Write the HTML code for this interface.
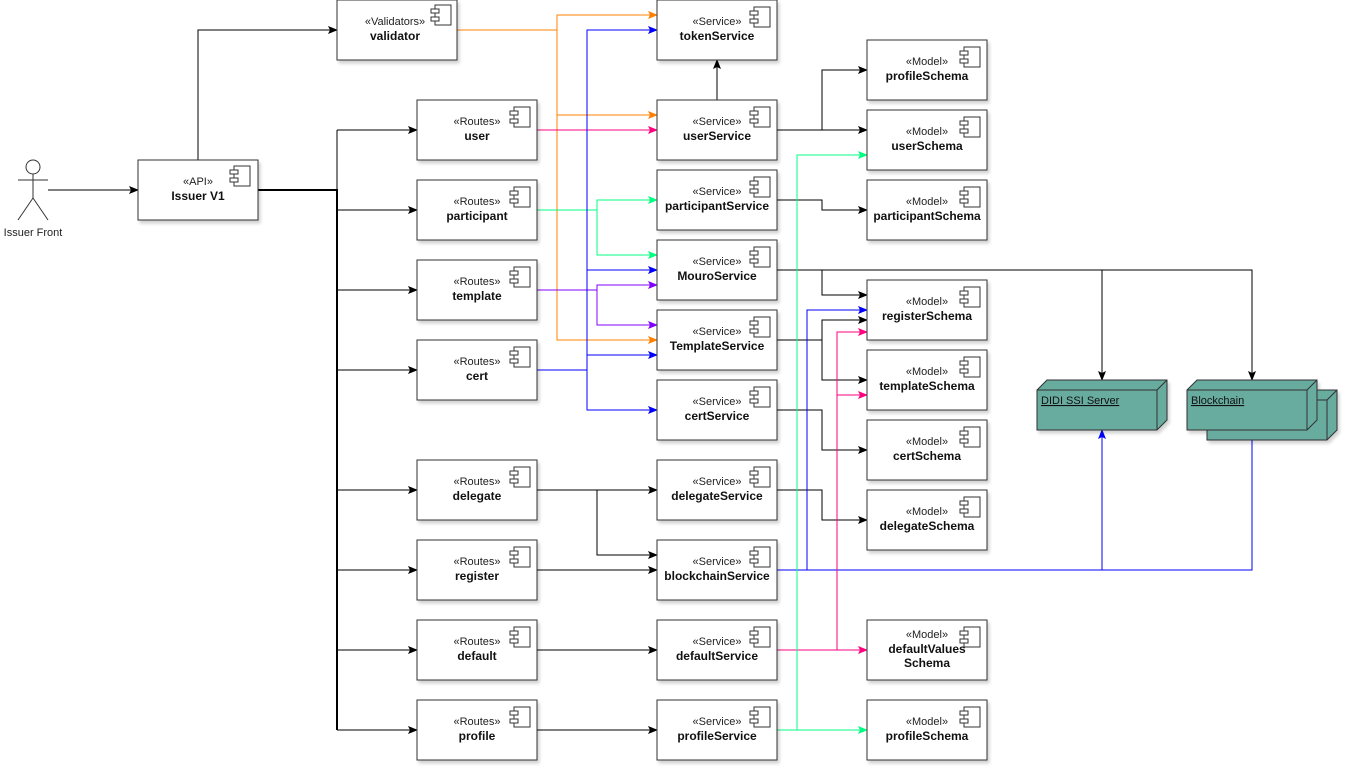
<!DOCTYPE html>
<html><head><meta charset="utf-8"><style>
html,body{margin:0;padding:0;background:#fff;}
svg{display:block;font-family:"Liberation Sans",sans-serif;}
.b{fill:#fff;stroke:#333;stroke-width:1;}
.st{font-size:11px;fill:#222;}
.nm{font-size:12px;font-weight:bold;fill:#111;}
</style></head><body>
<svg width="1349" height="772" viewBox="0 0 1349 772" xmlns="http://www.w3.org/2000/svg">
<defs>
<filter id="sh" x="-10%" y="-10%" width="130%" height="130%"><feDropShadow dx="2" dy="3" stdDeviation="1.5" flood-color="#000" flood-opacity="0.18"/></filter>
<marker id="ak" markerWidth="10" markerHeight="8" refX="9" refY="4" orient="auto" markerUnits="userSpaceOnUse"><path d="M0,0 L10,4 L0,8 L2,4z" fill="#000"/></marker>
<marker id="ao" markerWidth="10" markerHeight="8" refX="9" refY="4" orient="auto" markerUnits="userSpaceOnUse"><path d="M0,0 L10,4 L0,8 L2,4z" fill="#ff8000"/></marker>
<marker id="ab" markerWidth="10" markerHeight="8" refX="9" refY="4" orient="auto" markerUnits="userSpaceOnUse"><path d="M0,0 L10,4 L0,8 L2,4z" fill="#0000ff"/></marker>
<marker id="ap" markerWidth="10" markerHeight="8" refX="9" refY="4" orient="auto" markerUnits="userSpaceOnUse"><path d="M0,0 L10,4 L0,8 L2,4z" fill="#ff0080"/></marker>
<marker id="ag" markerWidth="10" markerHeight="8" refX="9" refY="4" orient="auto" markerUnits="userSpaceOnUse"><path d="M0,0 L10,4 L0,8 L2,4z" fill="#00ff80"/></marker>
<marker id="av" markerWidth="10" markerHeight="8" refX="9" refY="4" orient="auto" markerUnits="userSpaceOnUse"><path d="M0,0 L10,4 L0,8 L2,4z" fill="#8000ff"/></marker>
<g id="ic"><rect x="4" y="0" width="16" height="20" fill="#fff" stroke="#333"/><rect x="0" y="4" width="8" height="4" fill="#fff" stroke="#333"/><rect x="0" y="12" width="8" height="4" fill="#fff" stroke="#333"/></g>
</defs>

<g fill="none" stroke-width="1">
<path d="M48,190 H138" stroke="#000" marker-end="url(#ak)"/>
<path d="M198,160 V30 H337" stroke="#000" marker-end="url(#ak)"/>
<path d="M337,130 V190" stroke="#000"/>
<path d="M258,190 H337 V730" stroke="#000" stroke-width="2"/>
<g stroke="#000" marker-end="url(#ak)">
<path d="M337,130 H417"/><path d="M337,210 H417"/><path d="M337,290 H417"/><path d="M337,370 H417"/>
<path d="M337,490 H417"/><path d="M337,570 H417"/><path d="M337,650 H417"/><path d="M337,730 H417"/>
</g>
<g stroke="#ff8000" marker-end="url(#ao)">
<path d="M457,30 H557 V15 H657"/><path d="M557,30 V115 H657"/><path d="M557,115 V340 H657"/>
</g>
<path d="M537,130 H657" stroke="#ff0080" marker-end="url(#ap)"/>
<g stroke="#00ff80" marker-end="url(#ag)">
<path d="M537,210 H597 V200 H657"/><path d="M597,210 V255 H657"/>
</g>
<g stroke="#8000ff" marker-end="url(#av)">
<path d="M537,290 H597 V285 H657"/><path d="M597,290 V325 H657"/>
</g>
<g stroke="#0000ff" marker-end="url(#ab)">
<path d="M537,370 H587 V30 H657"/><path d="M587,270 H657"/><path d="M587,355 H657"/><path d="M587,370 V410 H657"/>
</g>
<g stroke="#000" marker-end="url(#ak)">
<path d="M717,100 V60"/>
<path d="M777,130 H822 V70 H867"/><path d="M777,130 H867"/>
<path d="M777,200 H822 V210 H867"/>
<path d="M777,270 H822 V295 H867"/>
<path d="M777,270 H1102 V380"/><path d="M1102,270 H1252 V380"/>
<path d="M777,340 H822 V320 H867"/><path d="M822,340 V380 H867"/>
<path d="M777,410 H822 V450 H867"/>
<path d="M537,490 H657"/><path d="M597,490 V555 H657"/>
<path d="M537,570 H657"/><path d="M537,650 H657"/><path d="M537,730 H657"/>
<path d="M777,490 H822 V520 H867"/>
</g>
<g stroke="#0000ff" marker-end="url(#ab)">
<path d="M777,570 H1102 V430"/><path d="M1102,570 H1252 V430"/><path d="M807,570 V310 H867"/>
</g>
<g stroke="#ff0080" marker-end="url(#ap)">
<path d="M777,650 H867"/><path d="M837,650 V332 H867"/><path d="M837,395 H867"/>
</g>
<g stroke="#00ff80" marker-end="url(#ag)">
<path d="M777,730 H867"/><path d="M797,730 V155 H867"/>
</g>
</g>

<g stroke="#333" fill="none">
<circle cx="33" cy="167" r="7" fill="#fff"/>
<path d="M33,174 V198 M18,180 H48 M33,198 L18,220 M33,198 L48,220"/>
</g>
<text x="33" y="236" text-anchor="middle" font-size="11" fill="#222">Issuer Front</text>

<g transform="translate(138,160)"><rect class="b" width="120" height="60" filter="url(#sh)"/><use href="#ic" x="92" y="6"/><text class="st" x="60" y="25" text-anchor="middle">«API»</text><text class="nm" x="60" y="40" text-anchor="middle">Issuer V1</text></g>
<g transform="translate(337,0)"><rect class="b" width="120" height="60" filter="url(#sh)"/><use href="#ic" x="94" y="5"/><text class="st" x="58" y="25" text-anchor="middle">«Validators»</text><text class="nm" x="58" y="40" text-anchor="middle">validator</text></g>

<g transform="translate(417,100)"><rect class="b" width="120" height="60" filter="url(#sh)"/><use href="#ic" x="93" y="7"/><text class="st" x="60" y="25" text-anchor="middle">«Routes»</text><text class="nm" x="60" y="40" text-anchor="middle">user</text></g>
<g transform="translate(417,180)"><rect class="b" width="120" height="60" filter="url(#sh)"/><use href="#ic" x="93" y="7"/><text class="st" x="60" y="25" text-anchor="middle">«Routes»</text><text class="nm" x="60" y="40" text-anchor="middle">participant</text></g>
<g transform="translate(417,260)"><rect class="b" width="120" height="60" filter="url(#sh)"/><use href="#ic" x="93" y="7"/><text class="st" x="60" y="25" text-anchor="middle">«Routes»</text><text class="nm" x="60" y="40" text-anchor="middle">template</text></g>
<g transform="translate(417,340)"><rect class="b" width="120" height="60" filter="url(#sh)"/><use href="#ic" x="93" y="7"/><text class="st" x="60" y="25" text-anchor="middle">«Routes»</text><text class="nm" x="60" y="40" text-anchor="middle">cert</text></g>
<g transform="translate(417,460)"><rect class="b" width="120" height="60" filter="url(#sh)"/><use href="#ic" x="93" y="7"/><text class="st" x="60" y="25" text-anchor="middle">«Routes»</text><text class="nm" x="60" y="40" text-anchor="middle">delegate</text></g>
<g transform="translate(417,540)"><rect class="b" width="120" height="60" filter="url(#sh)"/><use href="#ic" x="93" y="7"/><text class="st" x="60" y="25" text-anchor="middle">«Routes»</text><text class="nm" x="60" y="40" text-anchor="middle">register</text></g>
<g transform="translate(417,620)"><rect class="b" width="120" height="60" filter="url(#sh)"/><use href="#ic" x="93" y="7"/><text class="st" x="60" y="25" text-anchor="middle">«Routes»</text><text class="nm" x="60" y="40" text-anchor="middle">default</text></g>
<g transform="translate(417,700)"><rect class="b" width="120" height="60" filter="url(#sh)"/><use href="#ic" x="93" y="7"/><text class="st" x="60" y="25" text-anchor="middle">«Routes»</text><text class="nm" x="60" y="40" text-anchor="middle">profile</text></g>

<g transform="translate(657,0)"><rect class="b" width="120" height="60" filter="url(#sh)"/><use href="#ic" x="93" y="7"/><text class="st" x="60" y="25" text-anchor="middle">«Service»</text><text class="nm" x="60" y="40" text-anchor="middle">tokenService</text></g>
<g transform="translate(657,100)"><rect class="b" width="120" height="60" filter="url(#sh)"/><use href="#ic" x="93" y="7"/><text class="st" x="60" y="25" text-anchor="middle">«Service»</text><text class="nm" x="60" y="40" text-anchor="middle">userService</text></g>
<g transform="translate(657,170)"><rect class="b" width="120" height="60" filter="url(#sh)"/><use href="#ic" x="93" y="7"/><text class="st" x="60" y="25" text-anchor="middle">«Service»</text><text class="nm" x="60" y="40" text-anchor="middle">participantService</text></g>
<g transform="translate(657,240)"><rect class="b" width="120" height="60" filter="url(#sh)"/><use href="#ic" x="93" y="7"/><text class="st" x="60" y="25" text-anchor="middle">«Service»</text><text class="nm" x="60" y="40" text-anchor="middle">MouroService</text></g>
<g transform="translate(657,310)"><rect class="b" width="120" height="60" filter="url(#sh)"/><use href="#ic" x="93" y="7"/><text class="st" x="60" y="25" text-anchor="middle">«Service»</text><text class="nm" x="60" y="40" text-anchor="middle">TemplateService</text></g>
<g transform="translate(657,380)"><rect class="b" width="120" height="60" filter="url(#sh)"/><use href="#ic" x="93" y="7"/><text class="st" x="60" y="25" text-anchor="middle">«Service»</text><text class="nm" x="60" y="40" text-anchor="middle">certService</text></g>
<g transform="translate(657,460)"><rect class="b" width="120" height="60" filter="url(#sh)"/><use href="#ic" x="93" y="7"/><text class="st" x="60" y="25" text-anchor="middle">«Service»</text><text class="nm" x="60" y="40" text-anchor="middle">delegateService</text></g>
<g transform="translate(657,540)"><rect class="b" width="120" height="60" filter="url(#sh)"/><use href="#ic" x="93" y="7"/><text class="st" x="60" y="25" text-anchor="middle">«Service»</text><text class="nm" x="60" y="40" text-anchor="middle">blockchainService</text></g>
<g transform="translate(657,620)"><rect class="b" width="120" height="60" filter="url(#sh)"/><use href="#ic" x="93" y="7"/><text class="st" x="60" y="25" text-anchor="middle">«Service»</text><text class="nm" x="60" y="40" text-anchor="middle">defaultService</text></g>
<g transform="translate(657,700)"><rect class="b" width="120" height="60" filter="url(#sh)"/><use href="#ic" x="93" y="7"/><text class="st" x="60" y="25" text-anchor="middle">«Service»</text><text class="nm" x="60" y="40" text-anchor="middle">profileService</text></g>

<g transform="translate(867,40)"><rect class="b" width="120" height="60" filter="url(#sh)"/><use href="#ic" x="93" y="7"/><text class="st" x="60" y="25" text-anchor="middle">«Model»</text><text class="nm" x="60" y="40" text-anchor="middle">profileSchema</text></g>
<g transform="translate(867,110)"><rect class="b" width="120" height="60" filter="url(#sh)"/><use href="#ic" x="93" y="7"/><text class="st" x="60" y="25" text-anchor="middle">«Model»</text><text class="nm" x="60" y="40" text-anchor="middle">userSchema</text></g>
<g transform="translate(867,180)"><rect class="b" width="120" height="60" filter="url(#sh)"/><use href="#ic" x="93" y="7"/><text class="st" x="60" y="25" text-anchor="middle">«Model»</text><text class="nm" x="60" y="40" text-anchor="middle">participantSchema</text></g>
<g transform="translate(867,280)"><rect class="b" width="120" height="60" filter="url(#sh)"/><use href="#ic" x="93" y="7"/><text class="st" x="60" y="25" text-anchor="middle">«Model»</text><text class="nm" x="60" y="40" text-anchor="middle">registerSchema</text></g>
<g transform="translate(867,350)"><rect class="b" width="120" height="60" filter="url(#sh)"/><use href="#ic" x="93" y="7"/><text class="st" x="60" y="25" text-anchor="middle">«Model»</text><text class="nm" x="60" y="40" text-anchor="middle">templateSchema</text></g>
<g transform="translate(867,420)"><rect class="b" width="120" height="60" filter="url(#sh)"/><use href="#ic" x="93" y="7"/><text class="st" x="60" y="25" text-anchor="middle">«Model»</text><text class="nm" x="60" y="40" text-anchor="middle">certSchema</text></g>
<g transform="translate(867,490)"><rect class="b" width="120" height="60" filter="url(#sh)"/><use href="#ic" x="93" y="7"/><text class="st" x="60" y="25" text-anchor="middle">«Model»</text><text class="nm" x="60" y="40" text-anchor="middle">delegateSchema</text></g>
<g transform="translate(867,620)"><rect class="b" width="120" height="60" filter="url(#sh)"/><use href="#ic" x="93" y="7"/><text class="st" x="60" y="18" text-anchor="middle">«Model»</text><text class="nm" x="60" y="33" text-anchor="middle">defaultValues</text><text class="nm" x="60" y="47" text-anchor="middle">Schema</text></g>
<g transform="translate(867,700)"><rect class="b" width="120" height="60" filter="url(#sh)"/><use href="#ic" x="93" y="7"/><text class="st" x="60" y="25" text-anchor="middle">«Model»</text><text class="nm" x="60" y="40" text-anchor="middle">profileSchema</text></g>

<g stroke="#333" fill="#67ab9f" stroke-width="1">
<g filter="url(#sh)">
<path d="M1037,390 L1047,380 H1167 V420 L1157,430 H1037 Z"/>
<path d="M1037,390 H1157 V430 M1157,390 L1167,380" fill="none"/>
</g>
<g filter="url(#sh)">
<path d="M1207,400 L1217,390 H1337 V430 L1327,440 H1207 Z"/>
<path d="M1207,400 H1327 V440 M1327,400 L1337,390" fill="none"/>
<path d="M1187,390 L1197,380 H1317 V420 L1307,430 H1187 Z"/>
<path d="M1187,390 H1307 V430 M1307,390 L1317,380" fill="none"/>
</g>
</g>
<text x="1041" y="404" font-size="11" fill="#111" text-decoration="underline">DIDI SSI Server</text>
<text x="1191" y="404" font-size="11" fill="#111" text-decoration="underline">Blockchain</text>
</svg>
</body></html>
